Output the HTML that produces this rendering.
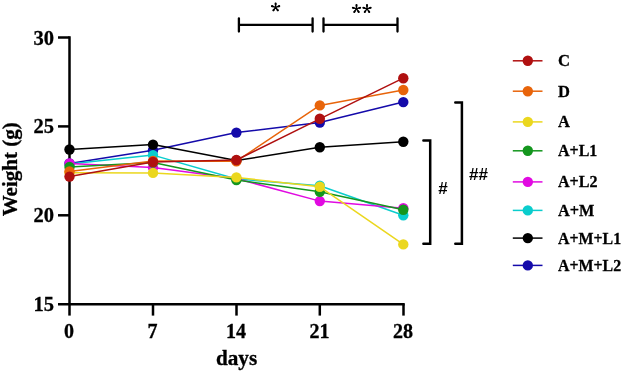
<!DOCTYPE html>
<html><head><meta charset="utf-8"><title>Weight chart</title>
<style>
html,body{margin:0;padding:0;background:#fff;}
body{width:624px;height:373px;overflow:hidden;font-family:"Liberation Serif",serif;}
svg{display:block;will-change:transform;}
.t{font-family:"Liberation Serif",serif;font-weight:bold;fill:#000;stroke:#000;stroke-width:0.3px;}
.s{font-family:"Liberation Sans",sans-serif;font-weight:bold;fill:#000;}
</style></head><body>
<svg width="624" height="373" viewBox="0 0 624 373">
<rect width="624" height="373" fill="#fff"/>


<g stroke="#000" stroke-width="2.5" fill="none">
<path d="M69.5,36.25 V304.2"/>
<path d="M58,304.2 H404.75"/>
<path d="M58,37.5 H69.5"/>
<path d="M58,126.4 H69.5"/>
<path d="M58,215.3 H69.5"/>
<path d="M69.5,304.2 V315.6"/>
<path d="M153,304.2 V315.6"/>
<path d="M236.5,304.2 V315.6"/>
<path d="M319.8,304.2 V315.6"/>
<path d="M403.5,304.2 V315.6"/>
</g>
<g>
<polyline points="69.5,163.4 153.0,150.2 236.4,132.6 319.8,122.5 403.3,102.1" fill="none" stroke="#140aaa" stroke-width="1.5" stroke-linejoin="round"/>
<circle cx="69.5" cy="163.4" r="5.2" fill="#140aaa"/>
<circle cx="153.0" cy="150.2" r="5.2" fill="#140aaa"/>
<circle cx="236.4" cy="132.6" r="5.2" fill="#140aaa"/>
<circle cx="319.8" cy="122.5" r="5.2" fill="#140aaa"/>
<circle cx="403.3" cy="102.1" r="5.2" fill="#140aaa"/>
<polyline points="69.5,149.5 153.0,144.6 236.4,160.5 319.8,147.3 403.3,141.8" fill="none" stroke="#000000" stroke-width="1.5" stroke-linejoin="round"/>
<circle cx="69.5" cy="149.5" r="5.2" fill="#000000"/>
<circle cx="153.0" cy="144.6" r="5.2" fill="#000000"/>
<circle cx="236.4" cy="160.5" r="5.2" fill="#000000"/>
<circle cx="319.8" cy="147.3" r="5.2" fill="#000000"/>
<circle cx="403.3" cy="141.8" r="5.2" fill="#000000"/>
<polyline points="69.5,164.0 153.0,155.1 236.4,179.0 319.8,185.7 403.3,215.2" fill="none" stroke="#0acdcd" stroke-width="1.5" stroke-linejoin="round"/>
<circle cx="69.5" cy="164.0" r="5.2" fill="#0acdcd"/>
<circle cx="153.0" cy="155.1" r="5.2" fill="#0acdcd"/>
<circle cx="236.4" cy="179.0" r="5.2" fill="#0acdcd"/>
<circle cx="319.8" cy="185.7" r="5.2" fill="#0acdcd"/>
<circle cx="403.3" cy="215.2" r="5.2" fill="#0acdcd"/>
<polyline points="69.5,163.5 153.0,167.6 236.4,178.6 319.8,201.1 403.3,208.3" fill="none" stroke="#e10ae1" stroke-width="1.5" stroke-linejoin="round"/>
<circle cx="69.5" cy="163.5" r="5.2" fill="#e10ae1"/>
<circle cx="153.0" cy="167.6" r="5.2" fill="#e10ae1"/>
<circle cx="236.4" cy="178.6" r="5.2" fill="#e10ae1"/>
<circle cx="319.8" cy="201.1" r="5.2" fill="#e10ae1"/>
<circle cx="403.3" cy="208.3" r="5.2" fill="#e10ae1"/>
<polyline points="69.5,167.0 153.0,162.5 236.4,180.0 319.8,191.8 403.3,209.7" fill="none" stroke="#14961e" stroke-width="1.5" stroke-linejoin="round"/>
<circle cx="69.5" cy="167.0" r="5.2" fill="#14961e"/>
<circle cx="153.0" cy="162.5" r="5.2" fill="#14961e"/>
<circle cx="236.4" cy="180.0" r="5.2" fill="#14961e"/>
<circle cx="319.8" cy="191.8" r="5.2" fill="#14961e"/>
<circle cx="403.3" cy="209.7" r="5.2" fill="#14961e"/>
<polyline points="69.5,172.8 153.0,172.9 236.4,177.4 319.8,186.8 403.3,244.4" fill="none" stroke="#ebd71e" stroke-width="1.5" stroke-linejoin="round"/>
<circle cx="69.5" cy="172.8" r="5.2" fill="#ebd71e"/>
<circle cx="153.0" cy="172.9" r="5.2" fill="#ebd71e"/>
<circle cx="236.4" cy="177.4" r="5.2" fill="#ebd71e"/>
<circle cx="319.8" cy="186.8" r="5.2" fill="#ebd71e"/>
<circle cx="403.3" cy="244.4" r="5.2" fill="#ebd71e"/>
<polyline points="69.5,171.5 153.0,161.0 236.4,161.2 319.8,105.4 403.3,90.0" fill="none" stroke="#e8640a" stroke-width="1.5" stroke-linejoin="round"/>
<circle cx="69.5" cy="171.5" r="5.2" fill="#e8640a"/>
<circle cx="153.0" cy="161.0" r="5.2" fill="#e8640a"/>
<circle cx="236.4" cy="161.2" r="5.2" fill="#e8640a"/>
<circle cx="319.8" cy="105.4" r="5.2" fill="#e8640a"/>
<circle cx="403.3" cy="90.0" r="5.2" fill="#e8640a"/>
<polyline points="69.5,176.6 153.0,162.0 236.4,160.0 319.8,118.8 403.3,78.2" fill="none" stroke="#b01010" stroke-width="1.5" stroke-linejoin="round"/>
<circle cx="69.5" cy="176.6" r="5.2" fill="#b01010"/>
<circle cx="153.0" cy="162.0" r="5.2" fill="#b01010"/>
<circle cx="236.4" cy="160.0" r="5.2" fill="#b01010"/>
<circle cx="319.8" cy="118.8" r="5.2" fill="#b01010"/>
<circle cx="403.3" cy="78.2" r="5.2" fill="#b01010"/>
</g>
<text class="t" x="54" y="44.5" font-size="20.5" text-anchor="end">30</text>
<text class="t" x="54" y="133.4" font-size="20.5" text-anchor="end">25</text>
<text class="t" x="54" y="222.3" font-size="20.5" text-anchor="end">20</text>
<text class="t" x="54" y="311.2" font-size="20.5" text-anchor="end">15</text>
<text class="t" x="69.0" y="338.4" font-size="20" text-anchor="middle">0</text>
<text class="t" x="152.5" y="338.4" font-size="20" text-anchor="middle">7</text>
<text class="t" x="236.0" y="338.4" font-size="20" text-anchor="middle">14</text>
<text class="t" x="319.5" y="338.4" font-size="20" text-anchor="middle">21</text>
<text class="t" x="403.0" y="338.4" font-size="20" text-anchor="middle">28</text>
<text class="t" transform="translate(236.6,365) scale(1.04,1)" font-size="20.4" text-anchor="middle">days</text>
<text class="t" transform="translate(17,169.3) rotate(-90)" font-size="21" text-anchor="middle">Weight (g)</text>
<path d="M512.8,60.8 H542.5" stroke="#b01010" stroke-width="1.5"/>
<circle cx="527.8" cy="60.8" r="5.2" fill="#b01010"/>
<text class="t" transform="translate(558,66.2) scale(0.97,1)" font-size="17.2">C</text>
<path d="M512.8,91.2 H542.5" stroke="#e8640a" stroke-width="1.5"/>
<circle cx="527.8" cy="91.2" r="5.2" fill="#e8640a"/>
<text class="t" transform="translate(558,96.60000000000001) scale(0.96,1)" font-size="17.2">D</text>
<path d="M512.8,121.9 H542.5" stroke="#ebd71e" stroke-width="1.5"/>
<circle cx="527.8" cy="121.9" r="5.2" fill="#ebd71e"/>
<text class="t" transform="translate(558,127.30000000000001) scale(0.96,1)" font-size="17.2">A</text>
<path d="M512.8,150.8 H542.5" stroke="#14961e" stroke-width="1.5"/>
<circle cx="527.8" cy="150.8" r="5.2" fill="#14961e"/>
<text class="t" transform="translate(558,156.20000000000002) scale(0.93,1)" font-size="17.2">A+L1</text>
<path d="M512.8,181.9 H542.5" stroke="#e10ae1" stroke-width="1.5"/>
<circle cx="527.8" cy="181.9" r="5.2" fill="#e10ae1"/>
<text class="t" transform="translate(558,187.3) scale(0.935,1)" font-size="17.2">A+L2</text>
<path d="M512.8,210.4 H542.5" stroke="#0acdcd" stroke-width="1.5"/>
<circle cx="527.8" cy="210.4" r="5.2" fill="#0acdcd"/>
<text class="t" transform="translate(558,215.8) scale(0.945,1)" font-size="17.2">A+M</text>
<path d="M512.8,238.1 H542.5" stroke="#000000" stroke-width="1.5"/>
<circle cx="527.8" cy="238.1" r="5.2" fill="#000000"/>
<text class="t" transform="translate(558,243.5) scale(0.924,1)" font-size="17.2">A+M+L1</text>
<path d="M512.8,265.4 H542.5" stroke="#140aaa" stroke-width="1.5"/>
<circle cx="527.8" cy="265.4" r="5.2" fill="#140aaa"/>
<text class="t" transform="translate(558,270.79999999999995) scale(0.924,1)" font-size="17.2">A+M+L2</text>
<g stroke="#000" stroke-width="2.3" fill="none" stroke-linecap="round">
<path d="M238.9,18.3 V31.5 M238.9,24.8 H312.6 M312.6,18.3 V31.5"/>
<path d="M323.5,18.3 V31.5 M323.5,24.8 H397.5 M397.5,18.3 V31.5"/>
<path d="M423.4,140.5 H430.2 V243.7 H423.4" stroke-width="2.5"/>
<path d="M455.3,102.6 H461.9 V243.7 H455.3" stroke-width="2.5"/>
</g>
<path d="M275.60,7.30 L275.60,3.50 M275.60,7.30 L279.21,6.13 M275.60,7.30 L277.83,10.37 M275.60,7.30 L273.37,10.37 M275.60,7.30 L271.99,6.13 " stroke="#000" stroke-width="1.35" stroke-linecap="round" fill="none"/><circle cx="275.60" cy="3.50" r="1.02"/><circle cx="275.60" cy="4.40" r="0.9"/><circle cx="279.21" cy="6.13" r="1.02"/><circle cx="278.36" cy="6.40" r="0.9"/><circle cx="277.83" cy="10.37" r="1.02"/><circle cx="277.30" cy="9.65" r="0.9"/><circle cx="273.37" cy="10.37" r="1.02"/><circle cx="273.90" cy="9.65" r="0.9"/><circle cx="271.99" cy="6.13" r="1.02"/><circle cx="272.84" cy="6.40" r="0.9"/>
<path d="M356.50,8.90 L356.50,5.10 M356.50,8.90 L360.11,7.73 M356.50,8.90 L358.73,11.97 M356.50,8.90 L354.27,11.97 M356.50,8.90 L352.89,7.73 " stroke="#000" stroke-width="1.35" stroke-linecap="round" fill="none"/><circle cx="356.50" cy="5.10" r="1.02"/><circle cx="356.50" cy="6.00" r="0.9"/><circle cx="360.11" cy="7.73" r="1.02"/><circle cx="359.26" cy="8.00" r="0.9"/><circle cx="358.73" cy="11.97" r="1.02"/><circle cx="358.20" cy="11.25" r="0.9"/><circle cx="354.27" cy="11.97" r="1.02"/><circle cx="354.80" cy="11.25" r="0.9"/><circle cx="352.89" cy="7.73" r="1.02"/><circle cx="353.74" cy="8.00" r="0.9"/>
<path d="M367.00,8.90 L367.00,5.10 M367.00,8.90 L370.61,7.73 M367.00,8.90 L369.23,11.97 M367.00,8.90 L364.77,11.97 M367.00,8.90 L363.39,7.73 " stroke="#000" stroke-width="1.35" stroke-linecap="round" fill="none"/><circle cx="367.00" cy="5.10" r="1.02"/><circle cx="367.00" cy="6.00" r="0.9"/><circle cx="370.61" cy="7.73" r="1.02"/><circle cx="369.76" cy="8.00" r="0.9"/><circle cx="369.23" cy="11.97" r="1.02"/><circle cx="368.70" cy="11.25" r="0.9"/><circle cx="364.77" cy="11.97" r="1.02"/><circle cx="365.30" cy="11.25" r="0.9"/><circle cx="363.39" cy="7.73" r="1.02"/><circle cx="364.24" cy="8.00" r="0.9"/>
<text class="s" x="442.9" y="193.8" font-size="17" text-anchor="middle">#</text>
<text class="s" x="478.4" y="180.4" font-size="17" text-anchor="middle">##</text>
</svg></body></html>
